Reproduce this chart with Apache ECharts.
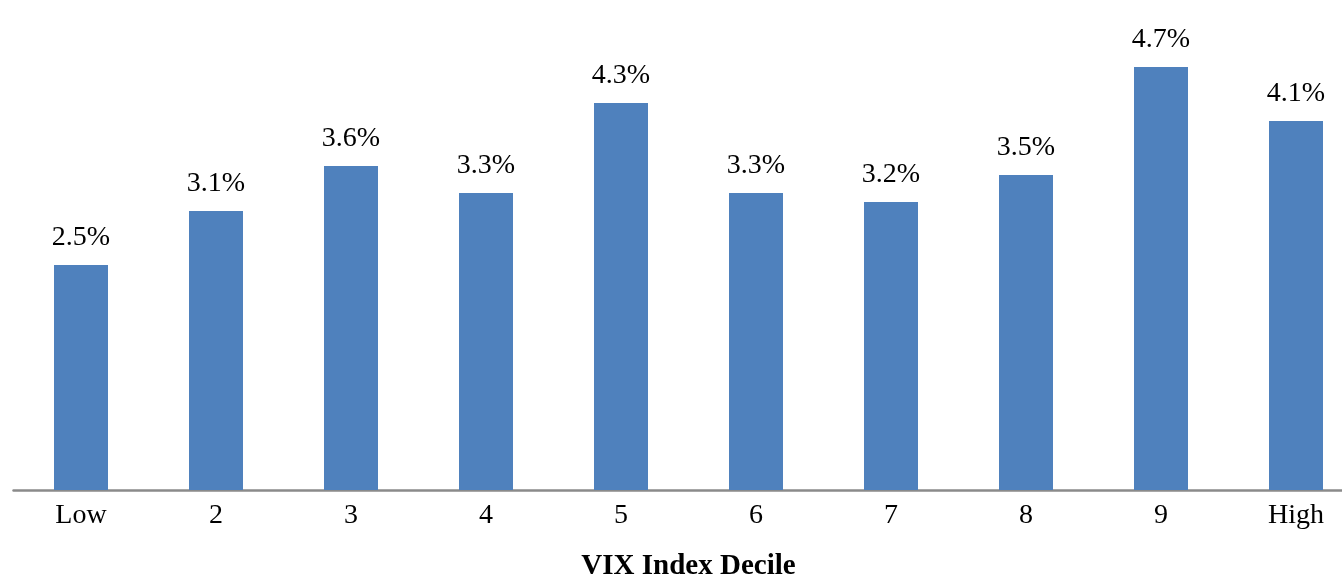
<!DOCTYPE html>
<html>
<head>
<meta charset="utf-8">
<script src="https://cdn.jsdelivr.net/npm/echarts@6/dist/echarts.min.js"></script>
<style>html,body{margin:0;padding:0;background:#fff}#c{width:1342px;height:576px}</style>
</head>
<body>
<div id="c"></div>
<script>
const categories = ['Low', '2', '3', '4', '5', '6', '7', '8', '9', 'High'];
const values = [2.5, 3.1, 3.6, 3.3, 4.3, 3.3, 3.2, 3.5, 4.7, 4.1];
const axisName = 'VIX Index Decile';

const chart = echarts.init(document.getElementById('c'), null, {renderer: 'canvas'});
const font = '"Liberation Serif", "Times New Roman", serif';
chart.setOption({
  animation: false,
  grid: {left: 13.5, right: -21.5, top: 40, bottom: 86, containLabel: false, outerBoundsMode: 'none'},
  xAxis: {
    type: 'category',
    data: categories,
    axisLine: {lineStyle: {color: '#8a8a8a', width: 2.5}},
    axisTick: {show: false},
    axisLabel: {color: '#000', fontFamily: font, fontSize: 28, margin: 12},
    name: axisName,
    nameLocation: 'middle',
    nameGap: 62,
    nameTextStyle: {color: '#000', fontFamily: font, fontSize: 29, fontWeight: 'bold'}
  },
  yAxis: {
    type: 'value', min: 0, max: 5, show: false,
    splitLine: {show: false}
  },
  series: [{
    type: 'bar',
    data: values,
    barWidth: 54,
    itemStyle: {color: '#4F81BD'},
    label: {
      show: true, position: 'top', distance: 13,
      color: '#000', fontFamily: font, fontSize: 28,
      formatter: p => p.value.toFixed(1) + '%'
    }
  }]
});
</script>
</body>
</html>
